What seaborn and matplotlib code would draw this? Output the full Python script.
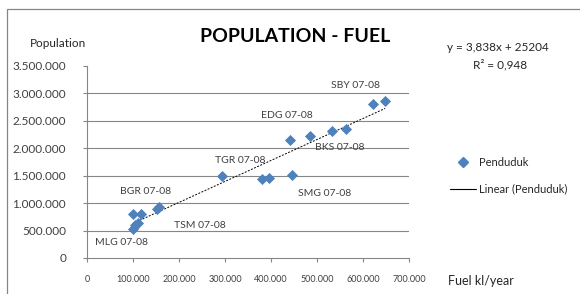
import numpy as np
import pandas as pd
import seaborn as sns
import matplotlib
matplotlib.use("Agg")
import matplotlib.pyplot as plt
from matplotlib.patches import Rectangle
from matplotlib.lines import Line2D

# Data (fuel kl/year, population)
fuel = [100700, 117000, 153000, 157000, 100700, 104000, 111500, 294000,
        441000, 485000, 533000, 564000, 622000, 648000, 380000, 396000, 446000]
population = [808000, 808000, 899000, 928000, 537000, 597000, 638000, 1488000,
              2152000, 2224000, 2315000, 2356000, 2808000, 2870000, 1441000, 1459000, 1513000]

label_text = ["SBY 07-08", "EDG 07-08", "BKS 07-08", "SMG 07-08",
              "TGR 07-08", "BGR 07-08", "TSM 07-08", "MLG 07-08"]
label_x = [583000, 435000, 550000, 517000, 333000, 128000, 246000, 76000]
label_y = [3146000, 2604000, 2007000, 1175000, 1772000, 1212000, 597000, 289000]

x_ticks = [0, 100000, 200000, 300000, 400000, 500000, 600000, 700000]
y_ticks = [0, 500000, 1000000, 1500000, 2000000, 2500000, 3000000, 3500000]

def fmt(v):
    return "0" if v == 0 else f"{v:,}".replace(",", ".")

sns.set_theme(style="white")
plt.rcParams['font.family'] = ['Lato', 'DejaVu Sans']

df = pd.DataFrame({"fuel": fuel, "pop": population})

fig = plt.figure(figsize=(5.8, 2.94), dpi=100)
ax = fig.add_axes([87/580, 1-258/294, (409-87)/580, (258-66)/294])

blue = "#4F81BD"
sns.scatterplot(data=df, x="fuel", y="pop", ax=ax, marker="D", s=32,
                color=blue, edgecolor=blue, linewidth=0, zorder=3, legend=False)

# trend line (least squares)
coef = np.polyfit(df["fuel"], df["pop"], 1)
xs = np.array([df["fuel"].min(), df["fuel"].max()])
ax.plot(xs, np.polyval(coef, xs), color="black", lw=0.7, ls=(0, (2, 1.5)), zorder=2)

ax.set_xlim(0, 700000)
ax.set_ylim(0, 3500000)
ax.set_xticks(x_ticks)
ax.set_yticks(y_ticks)
ax.set_xticklabels([fmt(v) for v in x_ticks], fontsize=6.5)
ax.set_yticklabels([fmt(v) for v in y_ticks], fontsize=8.5)
ax.tick_params(axis="both", length=3, width=0.8, color="#868686", colors="#404040")
ax.tick_params(axis="y", pad=12)
ax.tick_params(axis="x", pad=9)
ax.tick_params(left=True, bottom=True)
ax.set_xlabel("")
ax.set_ylabel("")
for y in y_ticks[1:-1]:
    ax.axhline(y, color="#868686", lw=0.8, zorder=1)
for s in ["top", "right"]:
    ax.spines[s].set_visible(False)
for s in ["left", "bottom"]:
    ax.spines[s].set_color("#868686")
    ax.spines[s].set_linewidth(0.8)

for t, x, y in zip(label_text, label_x, label_y):
    ax.text(x, y, t, fontsize=7.5, ha="center", va="center", color="#404040")

fig.text(295/580, 1-37/294, "POPULATION - FUEL", fontsize=14, fontweight="bold",
         ha="center", va="center", color="black")
fig.text(58/580, 1-43/294, "Population", fontsize=8.5, ha="center", va="center", color="#262626")
fig.text(481/580, 1-281/294, "Fuel kl/year", fontsize=9, ha="center", va="center", color="#262626")
fig.text(498/580, 1-47/294, "y = 3,838x + 25204", fontsize=8.5, ha="center", va="center", color="#262626")
fig.text(500/580, 1-65/294, "R² = 0,948", fontsize=8.5, ha="center", va="center", color="#262626")

# legend
handles = [Line2D([], [], marker="D", color=blue, ls="none", markersize=5),
           Line2D([], [], color="black", lw=0.8)]
fig.legend(handles, ["Penduduk", "Linear (Penduduk)"], loc="center left",
           bbox_to_anchor=(440/580, 1-176/294), frameon=False, fontsize=8,
           handlelength=2.3, labelspacing=1.4, handletextpad=0.3)

fig.patches.append(Rectangle((7/580, -0.1), 1.2, 1 - 9/294 + 0.1, transform=fig.transFigure,
                             fill=False, edgecolor="#868686", lw=0.9))

fig.savefig("out.png", dpi=100)
